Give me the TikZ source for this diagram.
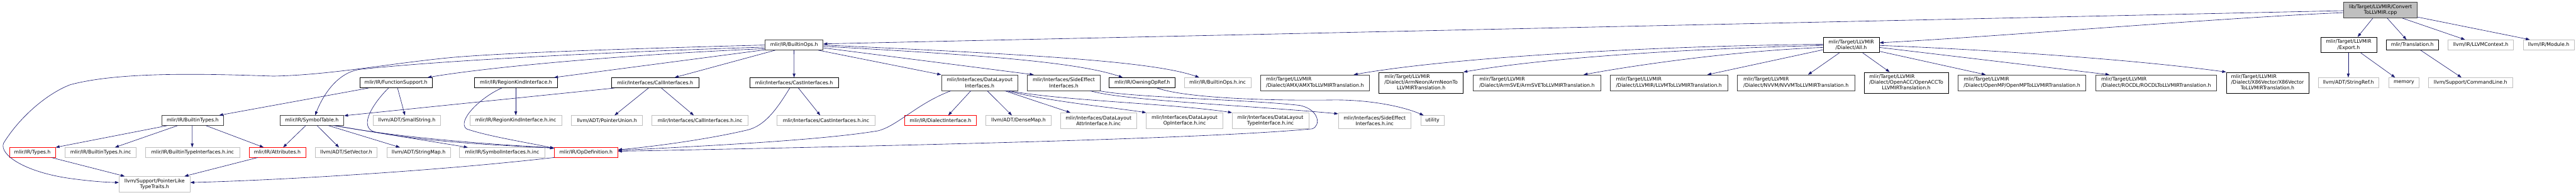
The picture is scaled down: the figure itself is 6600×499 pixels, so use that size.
\documentclass[tikz,border=0pt]{standalone}
\usepackage{fontspec}
\setmainfont{DejaVu Sans}
\usetikzlibrary{arrows.meta}
\definecolor{edgec}{RGB}{25,25,112}
\definecolor{darkb}{RGB}{64,64,64}
\definecolor{lgray}{RGB}{191,191,191}
\newcommand{\dxf}{\fontsize{12.6}{15}\selectfont}
\newcommand{\lft}[2]{\begin{tabular}{@{}l@{}}#1\\#2\end{tabular}}
\newcommand{\lftc}[3]{\begin{tabular}{@{}l@{}}#1\\#2\\\multicolumn{1}{@{}c@{}}{#3}\end{tabular}}
\begin{document}
\begin{tikzpicture}[x=1pt,y=-1pt,
  box/.style={rectangle, inner sep=0pt, font=\dxf, fill=white, text=black, align=center, line width=1pt},
  nb/.style={box, draw=black},
  nd/.style={box, draw=darkb, line width=1.3pt},
  ng/.style={box, draw=lgray},
  nr/.style={box, draw=red},
  nroot/.style={box, draw=darkb, line width=1.3pt, fill=lgray},
  e/.style={draw=edgec, line width=1pt, -{Triangle[length=10pt,width=7pt]}, edgec}
]
\useasboundingbox (0,0) rectangle (6600,499);
\fill[white] (0,0) rectangle (6600,499);

% row 0
\node[nroot, minimum width=188pt, minimum height=40pt] (cpp) at (6099,26) {lib/Target/LLVMIR/Convert\\ToLLVMIR.cpp};

% row 1
\node[nd, minimum width=149pt, minimum height=26pt] (ops) at (2034.5,115) {mlir/IR/BuiltinOps.h};
\node[nb, minimum width=144pt, minimum height=40pt] (allh) at (4743,115) {mlir/Target/LLVMIR\\/Dialect/All.h};
\node[nb, minimum width=143pt, minimum height=40pt] (exporth) at (6017.5,115) {mlir/Target/LLVMIR\\/Export.h};
\node[nb, minimum width=135pt, minimum height=26pt] (transh) at (6180.5,115) {mlir/Translation.h};
\node[ng, minimum width=168pt, minimum height=26pt] (llctx) at (6356,115) {llvm/IR/LLVMContext.h};
\node[ng, minimum width=130pt, minimum height=26pt] (module) at (6530,115) {llvm/IR/Module.h};

% row 2
\node[nb, minimum width=185pt, minimum height=26pt] (funcs) at (1014.5,212) {mlir/IR/FunctionSupport.h};
\node[nb, minimum width=212pt, minimum height=26pt] (regk) at (1322,212) {mlir/IR/RegionKindInterface.h};
\node[nb, minimum width=223pt, minimum height=26pt] (calli) at (1678.5,212) {mlir/Interfaces/CallInterfaces.h};
\node[nb, minimum width=227pt, minimum height=26pt] (casti) at (2034.5,212) {mlir/Interfaces/CastInterfaces.h};
\node[nd, minimum width=196pt, minimum height=40pt] (dli) at (2510,212) {mlir/Interfaces/DataLayout\\Interfaces.h};
\node[nd, minimum width=187pt, minimum height=40pt] (sei) at (2725.5,212) {mlir/Interfaces/SideEffect\\Interfaces.h};
\node[nb, minimum width=169pt, minimum height=26pt] (owning) at (2926.5,212) {mlir/IR/OwningOpRef.h};
\node[ng, minimum width=171pt, minimum height=26pt] (opsinc) at (3119.5,212) {mlir/IR/BuiltinOps.h.inc};
\node[nd, minimum width=280pt, minimum height=40pt] (amx) at (3369,212) {\lft{mlir/Target/LLVMIR}{/Dialect/AMX/AMXToLLVMIRTranslation.h}};
\node[nb, minimum width=216pt, minimum height=54pt] (neon) at (3641,212) {\lftc{mlir/Target/LLVMIR}{/Dialect/ArmNeon/ArmNeonTo}{LLVMIRTranslation.h}};
\node[nd, minimum width=326pt, minimum height=40pt] (sve) at (3938,212) {\lft{mlir/Target/LLVMIR}{/Dialect/ArmSVE/ArmSVEToLLVMIRTranslation.h}};
\node[nd, minimum width=302pt, minimum height=40pt] (llvmt) at (4276,212) {\lft{mlir/Target/LLVMIR}{/Dialect/LLVMIR/LLVMToLLVMIRTranslation.h}};
\node[nd, minimum width=301pt, minimum height=40pt] (nvvm) at (4601.5,212) {\lft{mlir/Target/LLVMIR}{/Dialect/NVVM/NVVMToLLVMIRTranslation.h}};
\node[nb, minimum width=216pt, minimum height=54pt] (acc) at (4884,212) {\lftc{mlir/Target/LLVMIR}{/Dialect/OpenACC/OpenACCTo}{LLVMIRTranslation.h}};
\node[nd, minimum width=327pt, minimum height=40pt] (omp) at (5180.5,212) {\lft{mlir/Target/LLVMIR}{/Dialect/OpenMP/OpenMPToLLVMIRTranslation.h}};
\node[nd, minimum width=310pt, minimum height=40pt] (rocdl) at (5524,212) {\lft{mlir/Target/LLVMIR}{/Dialect/ROCDL/ROCDLToLLVMIRTranslation.h}};
\node[nb, minimum width=211pt, minimum height=54pt] (xvec) at (5809.5,212) {\lftc{mlir/Target/LLVMIR}{/Dialect/X86Vector/X86Vector}{ToLLVMIRTranslation.h}};
\node[ng, minimum width=156pt, minimum height=26pt] (strref) at (6017,212) {llvm/ADT/StringRef.h};
\node[ng, minimum width=78pt, minimum height=26pt] (memory) at (6159,212) {memory};
\node[ng, minimum width=215pt, minimum height=26pt] (cmdline) at (6329.5,212) {llvm/Support/CommandLine.h};

% row 3
\node[nd, minimum width=159pt, minimum height=25pt] (btypes) at (493.5,308.5) {mlir/IR/BuiltinTypes.h};
\node[nd, minimum width=164pt, minimum height=25pt] (symtab) at (799,308.5) {mlir/IR/SymbolTable.h};
\node[ng, minimum width=173pt, minimum height=25pt] (smallstr) at (1042.5,308.5) {llvm/ADT/SmallString.h};
\node[ng, minimum width=235pt, minimum height=25pt] (regkinc) at (1321.5,308.5) {mlir/IR/RegionKindInterface.h.inc};
\node[ng, minimum width=182pt, minimum height=25pt] (ptrunion) at (1555,308.5) {llvm/ADT/PointerUnion.h};
\node[ng, minimum width=247pt, minimum height=25pt] (callinc) at (1793.5,308.5) {mlir/Interfaces/CallInterfaces.h.inc};
\node[ng, minimum width=251pt, minimum height=25pt] (castinc) at (2116.5,308.5) {mlir/Interfaces/CastInterfaces.h.inc};
\node[nr, minimum width=185pt, minimum height=25pt] (dialint) at (2409.5,308.5) {mlir/IR/DialectInterface.h};
\node[ng, minimum width=167pt, minimum height=25pt] (densemap) at (2609.5,308.5) {llvm/ADT/DenseMap.h};
\node[ng, minimum width=195pt, minimum height=40pt] (dlattr) at (2814.5,309) {mlir/Interfaces/DataLayout\\AttrInterface.h.inc};
\node[ng, minimum width=196pt, minimum height=40pt] (dlop) at (3035,309) {mlir/Interfaces/DataLayout\\OpInterface.h.inc};
\node[ng, minimum width=196pt, minimum height=40pt] (dltype) at (3255,309) {mlir/Interfaces/DataLayout\\TypeInterface.h.inc};
\node[ng, minimum width=186pt, minimum height=40pt] (seinc) at (3522,309) {mlir/Interfaces/SideEffect\\Interfaces.h.inc};
\node[ng, minimum width=60pt, minimum height=25pt] (utility) at (3670,308.5) {utility};

% row 4
\node[nr, minimum width=118pt, minimum height=25pt] (types) at (83,390.5) {mlir/IR/Types.h};
\node[ng, minimum width=182pt, minimum height=25pt] (btinc) at (258,390.5) {mlir/IR/BuiltinTypes.h.inc};
\node[ng, minimum width=241pt, minimum height=25pt] (btiinc) at (493.5,390.5) {mlir/IR/BuiltinTypeInterfaces.h.inc};
\node[nr, minimum width=145pt, minimum height=25pt] (attrs) at (710.5,390.5) {mlir/IR/Attributes.h};
\node[ng, minimum width=158pt, minimum height=25pt] (setvec) at (887,390.5) {llvm/ADT/SetVector.h};
\node[ng, minimum width=163pt, minimum height=25pt] (strmap) at (1072.5,390.5) {llvm/ADT/StringMap.h};
\node[ng, minimum width=219pt, minimum height=25pt] (syminc) at (1286.5,390.5) {mlir/IR/SymbolInterfaces.h.inc};
\node[nr, minimum width=163pt, minimum height=25pt] (opdef) at (1501.5,390.5) {mlir/IR/OpDefinition.h};

% row 5
\node[ng, minimum width=182pt, minimum height=40pt] (ptrlike) at (396,472) {llvm/Support/PointerLike\\TypeTraits.h};

% ---- edges from root
\draw[e] ([xshift=75pt]cpp.south west) -- ([xshift=95pt]exporth.north west);
\draw[e] ([xshift=112pt]cpp.south west) -- ([xshift=53pt]transh.north west);
\draw[e] ([xshift=151pt]cpp.south west) -- ([xshift=44pt]llctx.north west);
\draw[e] ([yshift=3pt]cpp.south east) -- ([xshift=17pt]module.north west);
\draw[e] ([yshift=-27pt]cpp.north west) .. controls (5700,45) and (5100,95) .. ([yshift=-15pt]allh.north east);
\draw[e] ([yshift=-22pt]cpp.north west) -- ([yshift=-11pt]ops.north east);

% ---- All.h
\draw[e] ([xshift=42pt]allh.south west) -- ([xshift=182pt]nvvm.north west);
\draw[e] ([xshift=102pt]allh.south west) -- ([xshift=66pt]acc.north west);
\draw[e] ([yshift=4pt]allh.south east) -- ([xshift=71pt]omp.north west);
\draw[e] ([yshift=-27pt]allh.north east) -- ([xshift=36pt]rocdl.north west);
\draw[e] ([yshift=-22pt]allh.north east) .. controls (5050,125) and (5450,150) .. (xvec.north west);
\draw[e] ([yshift=-33pt]allh.north west) -- ([xshift=250pt]llvmt.north west);
\draw[e] ([yshift=-27pt]allh.north west) .. controls (4450,130) and (4200,165) .. ([xshift=283pt]sve.north west);
\draw[e] ([yshift=-22pt]allh.north west) .. controls (4300,125) and (3950,150) .. (neon.north east);
\draw[e] ([yshift=-19pt]allh.north west) .. controls (4200,118) and (3700,150) .. ([xshift=240pt]amx.north west);

% ---- Export.h / Translation.h
\draw[e] ([xshift=71pt]exporth.south west) -- ([xshift=78pt]strref.north west);
\draw[e] ([xshift=103pt]exporth.south west) -- ([xshift=17pt]memory.north west);
\draw[e] ([xshift=89pt]transh.south west) -- ([xshift=85pt]cmdline.north west);

% ---- BuiltinOps.h
\draw[e] ([xshift=75pt]ops.south west) -- ([xshift=114pt]casti.north west);
\draw[e] ([xshift=137pt]ops.south west) -- (dli.north west);
\draw[e] ([yshift=6pt]ops.south east) -- ([xshift=17pt]sei.north west);
\draw[e] ([yshift=10pt]ops.south east) .. controls (2450,138) and (2750,155) .. ([xshift=35pt]owning.north west);
\draw[e] ([yshift=-14pt]ops.north east) .. controls (2600,138) and (2950,155) .. ([xshift=39pt]opsinc.north west);
\draw[e] ([yshift=1pt]ops.south west) -- ([xshift=204pt]regk.north west);
\draw[e] ([xshift=27pt]ops.south west) -- ([xshift=162pt]calli.north west);
\draw[e] ([yshift=4pt]ops.south west) .. controls (1600,140) and (1250,172) .. ([xshift=174pt]funcs.north west);
\draw[e] ([yshift=8pt]ops.south west) .. controls (1500,135) and (1100,158) .. (920,178)
   .. controls (860,188) and (825,250) .. ([xshift=91pt]symtab.north west);
\draw[e] ([yshift=-14pt]ops.north west) .. controls (1600,125) and (1300,135) .. (1160,147)
   .. controls (1000,162) and (850,192) .. (700,195)
   .. controls (500,188) and (300,185) .. (180,217)
   .. controls (120,240) and (50,300) .. (9,367)
   .. controls (-2,395) and (60,440) .. (179,457)
   .. controls (230,464) and (270,467) .. ([yshift=-16pt]ptrlike.north west);

% ---- FunctionSupport.h
\draw[e] ([xshift=23pt]funcs.south west) -- ([xshift=148pt]btypes.north west);
\draw[e] ([xshift=97pt]funcs.south west) -- ([xshift=82pt]smallstr.north west);
\draw[e] ([xshift=74pt]funcs.south west) .. controls (960,260) and (915,325) .. (960,338)
   .. controls (1100,365) and (1300,373) .. ([yshift=-2pt]opdef.north west);

% ---- RegionKindInterface.h
\draw[e] ([xshift=106pt]regk.south west) -- ([xshift=118pt]regkinc.north west);
\draw[e] ([xshift=70pt]regk.south west) .. controls (1230,250) and (1170,310) .. (1195,330)
   .. controls (1250,350) and (1380,370) .. ([yshift=-3pt]opdef.north west);

% ---- CallInterfaces.h
\draw[e] ([xshift=8pt]calli.south west) -- ([yshift=-1pt]symtab.north east);
\draw[e] ([xshift=95pt]calli.south west) -- ([xshift=111pt]ptrunion.north west);
\draw[e] ([xshift=128pt]calli.south west) -- ([xshift=108pt]callinc.north west);

% ---- CastInterfaces.h
\draw[e] ([xshift=125pt]casti.south west) -- ([xshift=111pt]castinc.north west);
\draw[e] ([xshift=103pt]casti.south west) .. controls (1990,280) and (1960,322) .. (1915,333)
   .. controls (1800,360) and (1650,378) .. ([yshift=-6pt]opdef.north east);

% ---- DataLayoutInterfaces.h
\draw[e] ([xshift=76pt]dli.south west) -- ([xshift=113pt]dialint.north west);
\draw[e] ([xshift=118pt]dli.south west) -- ([xshift=67pt]densemap.north west);
\draw[e] ([xshift=163pt]dli.south west) -- ([xshift=26pt]dlattr.north west);
\draw[e] ([xshift=168pt]dli.south west) .. controls (2700,262) and (2850,275) .. (dlop.north west);
\draw[e] ([xshift=175pt]dli.south west) .. controls (2720,258) and (3000,265) .. (dltype.north west);
\draw[e] ([xshift=25pt]dli.south west) .. controls (2350,265) and (2300,322) .. (2250,335)
   .. controls (2100,360) and (1800,374) .. ([yshift=-8pt]opdef.north east);

% ---- SideEffectInterfaces.h
\draw[e] ([xshift=162pt]sei.south west) .. controls (2880,258) and (3200,270) .. ([yshift=-3pt]seinc.north west);
\draw[e] ([xshift=186pt]sei.south west) .. controls (2900,250) and (3200,255) .. (3330,270)
   .. controls (3380,280) and (3385,322) .. (3362,330)
   .. controls (3150,350) and (2600,368) .. ([yshift=-10pt]opdef.north east);

% ---- OwningOpRef.h
\draw[e] ([xshift=123pt]owning.south west) .. controls (3050,255) and (3300,258) .. (3420,256)
   .. controls (3520,256) and (3600,275) .. ([xshift=8pt]utility.north west);

% ---- SymbolTable.h
\draw[e] ([xshift=67pt]symtab.south west) -- ([xshift=88pt]attrs.north west);
\draw[e] ([xshift=96pt]symtab.south west) -- ([xshift=61pt]setvec.north west);
\draw[e] ([xshift=125pt]symtab.south west) -- ([xshift=34pt]strmap.north west);
\draw[e] ([xshift=138pt]symtab.south west) -- ([xshift=22pt]syminc.north west);
\draw[e] ([xshift=143pt]symtab.south west) .. controls (1000,350) and (1250,370) .. ([yshift=-1pt]opdef.north west);

% ---- BuiltinTypes.h
\draw[e] ([xshift=16pt]btypes.south west) -- (types.north east);
\draw[e] ([xshift=42pt]btypes.south west) -- ([xshift=128pt]btinc.north west);
\draw[e] ([xshift=79pt]btypes.south west) -- ([xshift=120pt]btiinc.north west);
\draw[e] ([xshift=114pt]btypes.south west) -- ([xshift=38pt]attrs.north west);

% ---- to PointerLikeTypeTraits.h
\draw[e] ([xshift=108pt]types.south west) -- ([xshift=15pt]ptrlike.north west);
\draw[e] ([xshift=23pt]attrs.south west) -- ([xshift=168pt]ptrlike.north west);
\draw[e] (opdef.south west) .. controls (1100,440) and (700,462) .. ([yshift=-16pt]ptrlike.north east);
\end{tikzpicture}
\end{document}
